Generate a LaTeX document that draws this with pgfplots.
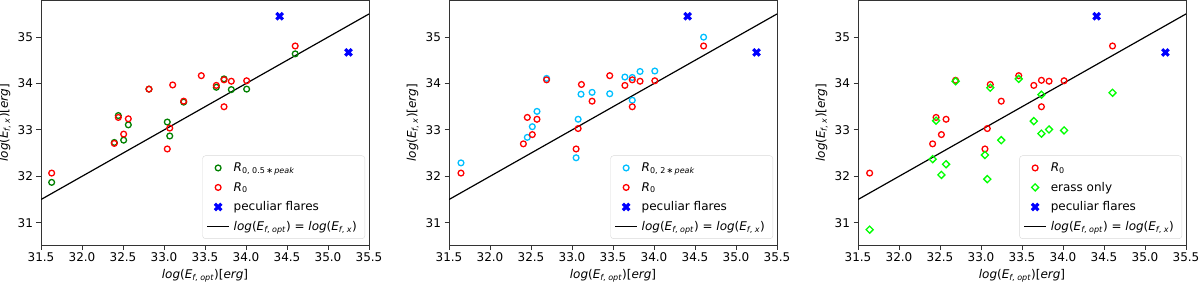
\documentclass[border=0pt]{standalone}
\usepackage{pgfplots}
\pgfplotsset{compat=1.18}
\usepackage{fontspec}
\setmainfont{DejaVu Sans}

\definecolor{mgreen}{HTML}{008000}
\definecolor{mred}{HTML}{FF0000}
\definecolor{mcyan}{HTML}{00BFFF}
\definecolor{mlime}{HTML}{00FF00}
\definecolor{mblue}{HTML}{0000FF}

\pgfdeclareplotmark{Xf}{%
 \pgftransformrotate{45}%
 \pgfpathrectangle{\pgfqpoint{-\pgfplotmarksize}{-0.34\pgfplotmarksize}}{\pgfqpoint{2\pgfplotmarksize}{0.68\pgfplotmarksize}}%
 \pgfpathrectangle{\pgfqpoint{-0.34\pgfplotmarksize}{-\pgfplotmarksize}}{\pgfqpoint{0.68\pgfplotmarksize}{2\pgfplotmarksize}}%
 \pgfusepathqfill}

\newcommand{\fs}{\fontsize{12}{14}\selectfont}
\newcommand{\Eopt}{\textit{log}(\textit{E}\textsubscript{\textit{f}, \textit{opt}})}
\newcommand{\Ex}{\textit{log}(\textit{E}\textsubscript{\textit{f}, \textit{x}})}

\pgfplotsset{
 myaxis/.style={
  scale only axis, width=328pt, height=244.5pt, anchor=south west,
  xmin=31.5, xmax=35.5, ymin=30.52, ymax=35.79,
  xtick={31.5,32.0,32.5,33.0,33.5,34.0,34.5,35.0,35.5},
  ytick={31,32,33,34,35},
  xticklabel style={/pgf/number format/.cd, fixed, fixed zerofill, precision=1},
  /pgf/number format/assume math mode=true,
  tick label style={font=\fs},
  label style={font=\fs},
  tick align=outside, tick pos=left, major tick length=4.5pt,
  axis line style={black!80, line width=0.9pt},
  every tick/.style={black!80, line width=0.9pt},
  xlabel={\Eopt[\textit{erg}]},
  ylabel={\Ex[\textit{erg}]},
  legend cell align=left,
  legend image code/.code={\draw[mark repeat=2,mark phase=2,##1] plot coordinates {(0pt,0pt) (11pt,0pt) (22pt,0pt)};},
  legend style={at={(rel axis cs:0.988,0.025)}, anchor=south east,
    draw=black!15, rounded corners=3pt, font=\fs,
    inner xsep=4pt, inner ysep=2.5pt, row sep=0pt,
    nodes={inner xsep=4pt, inner ysep=1.5pt, text height=12pt, text depth=4.5pt}},
 },
 circ/.style={only marks, mark=o, mark size=2.9pt, line width=1.3pt},
 diam/.style={only marks, mark=square, mark size=2.5pt, line width=1.3pt, mark options={rotate=45}},
 pec/.style={only marks, mark=Xf, mark size=4.6pt, color=mblue},
 eq/.style={black, line width=1.2pt},
}

\begin{document}
\begin{tikzpicture}[x=1pt,y=1pt]
\useasboundingbox (0,0) rectangle (1200,282);

% ---------- panel 1
\begin{axis}[myaxis, at={(41pt,37pt)}]
\addplot[circ, color=mgreen] coordinates {
(31.63,31.87) (32.394,32.73) (32.443,33.31) (32.508,32.78) (32.565,33.11)
(32.817,33.88) (33.04,33.17) (33.07,32.87) (33.24,33.60) (33.638,33.92)
(33.732,34.10) (33.821,33.87) (34.008,33.88) (34.60,34.64)};
\addlegendentry{\textit{R}\textsubscript{0, 0.5\,∗\,\textit{peak}}}
\addplot[circ, color=mred] coordinates {
(31.63,32.07) (32.394,32.71) (32.443,33.27) (32.508,32.91) (32.565,33.24)
(32.817,33.88) (33.04,32.59) (33.07,33.04) (33.106,33.97) (33.24,33.62)
(33.455,34.17) (33.638,33.96) (33.732,34.08) (33.732,33.50) (33.821,34.05)
(34.008,34.06) (34.60,34.81)};
\addlegendentry{\textit{R}\textsubscript{0}}
\addplot[pec] coordinates {(34.41,35.45) (35.25,34.67)};
\addlegendentry{peculiar flares}
\addplot[eq] coordinates {(31.5,31.5) (35.5,35.5)};
\addlegendentry{\Eopt\ = \Ex}
\end{axis}

% ---------- panel 2
\begin{axis}[myaxis, at={(449pt,37pt)}]
\addplot[circ, color=mcyan] coordinates {
(31.646,32.29) (32.455,32.84) (32.516,33.07) (32.573,33.40) (32.69,34.11)
(33.05,32.40) (33.075,33.23) (33.11,33.77) (33.245,33.81) (33.46,33.78)
(33.645,34.14) (33.735,34.13) (33.735,33.64) (33.83,34.26) (34.01,34.27)
(34.605,35.00)};
\addlegendentry{\textit{R}\textsubscript{0, 2\,∗\,\textit{peak}}}
\addplot[circ, color=mred] coordinates {
(31.646,32.07) (32.407,32.70) (32.455,33.27) (32.516,32.90) (32.573,33.23)
(32.69,34.08) (33.05,32.59) (33.075,33.03) (33.115,33.98) (33.245,33.62)
(33.46,34.17) (33.645,33.96) (33.735,34.08) (33.735,33.50) (33.83,34.05)
(34.01,34.06) (34.605,34.81)};
\addlegendentry{\textit{R}\textsubscript{0}}
\addplot[pec] coordinates {(34.41,35.45) (35.25,34.67)};
\addlegendentry{peculiar flares}
\addplot[eq] coordinates {(31.5,31.5) (35.5,35.5)};
\addlegendentry{\Eopt\ = \Ex}
\end{axis}

% ---------- panel 3
\begin{axis}[myaxis, at={(858pt,37pt)}]
\addplot[circ, color=mred] coordinates {
(31.642,32.07) (32.41,32.70) (32.452,33.27) (32.517,32.90) (32.574,33.23)
(32.69,34.07) (33.048,32.59) (33.077,33.03) (33.113,33.98) (33.247,33.62)
(33.46,34.17) (33.644,33.96) (33.737,34.07) (33.737,33.50) (33.83,34.05)
(34.013,34.06) (34.604,34.81)};
\addlegendentry{\textit{R}\textsubscript{0}}
\addplot[diam, color=mlime] coordinates {
(31.642,30.85) (32.41,32.37) (32.452,33.20) (32.517,32.03) (32.574,32.26)
(32.69,34.05) (33.048,32.46) (33.077,31.94) (33.113,33.91) (33.247,32.78)
(33.46,34.10) (33.644,33.19) (33.737,33.76) (33.737,32.92) (33.83,33.01)
(34.013,32.99) (34.604,33.80)};
\addlegendentry{erass only}
\addplot[pec] coordinates {(34.41,35.45) (35.249,34.67)};
\addlegendentry{peculiar flares}
\addplot[eq] coordinates {(31.5,31.5) (35.5,35.5)};
\addlegendentry{\Eopt\ = \Ex}
\end{axis}
\end{tikzpicture}
\end{document}
